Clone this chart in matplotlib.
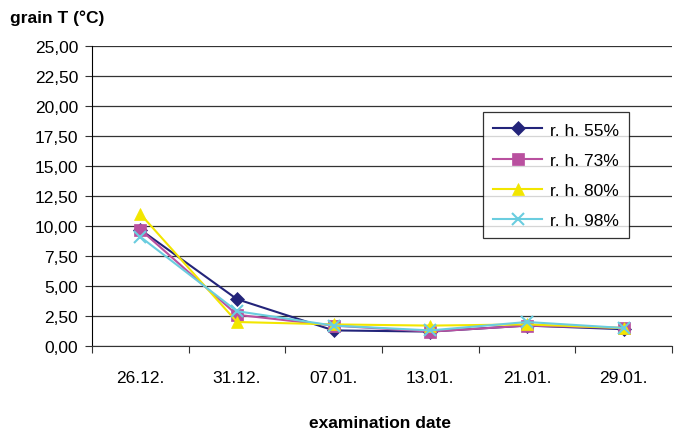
import numpy as np
import matplotlib
matplotlib.use("Agg")
import matplotlib.pyplot as plt
from matplotlib.ticker import FuncFormatter

plt.rcParams['font.family'] = ['Liberation Sans', 'DejaVu Sans']

# dados
datas = ['26.12.', '31.12.', '07.01.', '13.01.', '21.01.', '29.01.']
rh55 = [9.7, 3.9, 1.3, 1.2, 1.7, 1.4]
rh73 = [9.7, 2.6, 1.7, 1.2, 1.7, 1.5]
rh80 = [11.0, 2.0, 1.8, 1.7, 1.8, 1.5]
rh98 = [9.1, 2.9, 1.7, 1.3, 2.0, 1.5]

series = [
    ('r. h. 55%', rh55, '#23247A', 'D', 7),
    ('r. h. 73%', rh73, '#B9509F', 's', 8),
    ('r. h. 80%', rh80, '#F2E600', '^', 9),
    ('r. h. 98%', rh98, '#6ACDDF', 'x', 9),
]

FS = 12.5

fig = plt.figure(figsize=(6.76, 4.31), dpi=100)
ax = fig.add_axes([92 / 676, 1 - 347 / 431, 580 / 676, 300 / 431])

x = np.arange(len(datas))
for nome, vals, cor, marc, tam in series:
    ax.plot(x, vals, color=cor, marker=marc, markersize=tam, linewidth=1.5,
            markeredgewidth=1.5 if marc == 'x' else 0.5, label=nome)

ax.set_xlim(-0.5, len(datas) - 0.5)
ax.set_ylim(0, 25)
ax.set_yticks(np.arange(0, 25.01, 2.5))
ax.yaxis.set_major_formatter(FuncFormatter(lambda v, p: f'{v:.2f}'.replace('.', ',')))
ax.grid(axis='y', color='#333333', linewidth=0.9)
ax.set_axisbelow(True)

# ticks nas fronteiras das categorias
ax.set_xticks(np.arange(-0.5, len(datas)), minor=False)
ax.set_xticklabels([])
ax.set_xticks(x, minor=True)
ax.set_xticklabels(datas, minor=True, fontsize=FS)
ax.tick_params(axis='x', which='minor', length=0, pad=17)
ax.tick_params(axis='x', which='major', length=5, color='#333333')
ax.tick_params(axis='y', length=5, labelsize=FS, color='#333333', pad=5)

for lado in ['top', 'right']:
    ax.spines[lado].set_visible(False)
ax.spines['left'].set_color('black')
ax.spines['bottom'].set_color('#333333')

fig.text(10 / 676, 1 - 18 / 431, 'grain T (°C)', fontsize=FS, fontweight='bold',
         va='center', ha='left')
fig.text(380 / 676, 1 - 424 / 431, 'examination date', fontsize=FS,
         fontweight='bold', va='center', ha='center')

leg = ax.legend(loc='upper left', bbox_to_anchor=((483 - 92) / 580, 1 - (113 - 47) / 300),
                fontsize=FS, frameon=True, fancybox=False, edgecolor='black',
                borderpad=0.6, labelspacing=0.86, handlelength=2.8, handletextpad=0.45,
                borderaxespad=0)
leg.get_frame().set_linewidth(0.9)

fig.savefig('out.png', dpi=100)
